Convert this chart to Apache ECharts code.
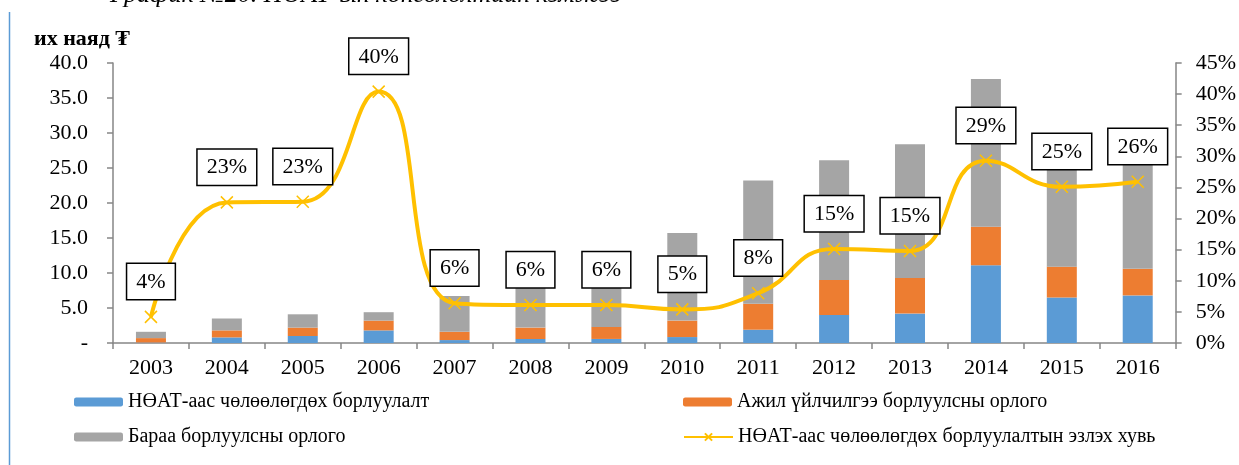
<!DOCTYPE html>
<html>
<head>
<meta charset="utf-8">
<script src="https://cdn.jsdelivr.net/npm/echarts@6/dist/echarts.min.js"></script>
<style>
  html, body { margin: 0; padding: 0; background: #fff; }
  #chart { width: 1239px; height: 465px; }
</style>
</head>
<body>
<div id="chart"></div>
<script>
  // 年份
  var years = ['2003', '2004', '2005', '2006', '2007', '2008', '2009', '2010', '2011', '2012', '2013', '2014', '2015', '2016'];
  // их наяд ₮ (stacked parts)
  var vatExempt = [0.07, 0.8, 1.0, 1.8, 0.42, 0.57, 0.58, 0.85, 1.9, 4.0, 4.2, 11.1, 6.5, 6.8];
  var serviceIncome = [0.63, 1.0, 1.2, 1.4, 1.18, 1.63, 1.72, 2.35, 3.7, 5.0, 5.1, 5.5, 4.4, 3.8];
  var goodsIncome = [0.9, 1.7, 1.9, 1.2, 5.1, 7.1, 7.2, 12.5, 17.6, 17.1, 19.1, 21.1, 14.9, 15.6];
  // эзлэх хувь, %
  var exemptShare = [4.2, 22.6, 22.7, 40.4, 6.4, 6.1, 6.1, 5.4, 8.0, 15.1, 14.8, 29.3, 25.1, 25.9];

  var names = [
    'НӨАТ-аас чөлөөлөгдөх борлуулалт',
    'Ажил үйлчилгээ борлуулсны орлого',
    'Бараа борлуулсны орлого',
    'НӨАТ-аас чөлөөлөгдөх борлуулалтын эзлэх хувь'
  ];

  var serif = 'Liberation Serif';
  var axisColor = '#868686';
  var xMark = 'path://M0,0L10,10M10,0L0,10';

  var chart = echarts.init(document.getElementById('chart'));

  function legendAt(name, left, top) {
    return {
      data: [name],
      left: left,
      top: top,
      itemWidth: 49,
      itemHeight: 9,
      itemGap: 5,
      textStyle: { fontFamily: serif, fontSize: 20, color: '#000' }
    };
  }

  chart.setOption({
    animation: false,
    title: {
      text: 'График №20. НӨАТ-ын хөнгөлөлтийн хэмжээ',
      left: 105,
      top: -23,
      textStyle: { fontFamily: serif, fontSize: 26, fontStyle: 'italic', fontWeight: 'normal', color: '#000' }
    },
    graphic: [{
      type: 'line',
      shape: { x1: 9.5, y1: 12, x2: 9.5, y2: 465 },
      style: { stroke: '#5B9BD5', lineWidth: 1.5 }
    }],
    legend: [
      legendAt(names[0], 69, 387),
      legendAt(names[1], 678, 387),
      legendAt(names[2], 69, 422),
      legendAt(names[3], 678, 422)
    ],
    grid: { left: 113, right: 61, top: 63, bottom: 122 },
    xAxis: {
      type: 'category',
      data: years,
      axisLine: { lineStyle: { color: axisColor, width: 1.5 } },
      axisTick: { show: true, length: 6, lineStyle: { color: axisColor, width: 1.5 } },
      axisLabel: { fontFamily: serif, fontSize: 22, color: '#000', margin: 14 }
    },
    yAxis: [{
      type: 'value',
      min: 0,
      max: 40,
      interval: 5,
      name: 'их наяд ₮',
      nameLocation: 'end',
      nameGap: 13,
      nameTextStyle: { fontFamily: serif, fontSize: 22, fontWeight: 'bold', color: '#000', align: 'center', padding: [0, 62, 0, 0] },
      splitLine: { show: false },
      axisLine: { show: true, lineStyle: { color: axisColor, width: 1.5 } },
      axisTick: { show: true, length: 6, lineStyle: { color: axisColor, width: 1.5 } },
      axisLabel: {
        fontFamily: serif, fontSize: 22, color: '#000', margin: 25,
        formatter: function (v) { return v === 0 ? '-' : v.toFixed(1); }
      }
    }, {
      type: 'value',
      min: 0,
      max: 45,
      interval: 5,
      position: 'right',
      splitLine: { show: false },
      axisLine: { show: true, lineStyle: { color: axisColor, width: 1.5 } },
      axisTick: { show: true, length: 6, lineStyle: { color: axisColor, width: 1.5 } },
      axisLabel: { fontFamily: serif, fontSize: 22, color: '#000', margin: 20, formatter: '{value}%' }
    }],
    series: [{
      name: names[0],
      type: 'bar',
      stack: 'total',
      barWidth: 30,
      itemStyle: { color: '#5B9BD5' },
      data: vatExempt
    }, {
      name: names[1],
      type: 'bar',
      stack: 'total',
      barWidth: 30,
      itemStyle: { color: '#ED7D31' },
      data: serviceIncome
    }, {
      name: names[2],
      type: 'bar',
      stack: 'total',
      barWidth: 30,
      itemStyle: { color: '#A5A5A5' },
      data: goodsIncome
    }, {
      name: names[3],
      type: 'line',
      yAxisIndex: 1,
      smooth: 0.5,
      symbol: xMark,
      symbolSize: 12,
      lineStyle: { color: '#FFC000', width: 4 },
      itemStyle: { color: '#FFC000', borderColor: '#FFC000', borderWidth: 1.5 },
      label: {
        show: true,
        position: 'top',
        distance: 11,
        fontFamily: serif,
        fontSize: 22,
        color: '#000',
        backgroundColor: '#fff',
        borderColor: '#000',
        borderWidth: 1.5,
        padding: [7, 9, 6, 9],
        formatter: function (p) { return Math.round(p.value) + '%'; }
      },
      z: 5,
      data: exemptShare
    }]
  });
</script>
</body>
</html>
